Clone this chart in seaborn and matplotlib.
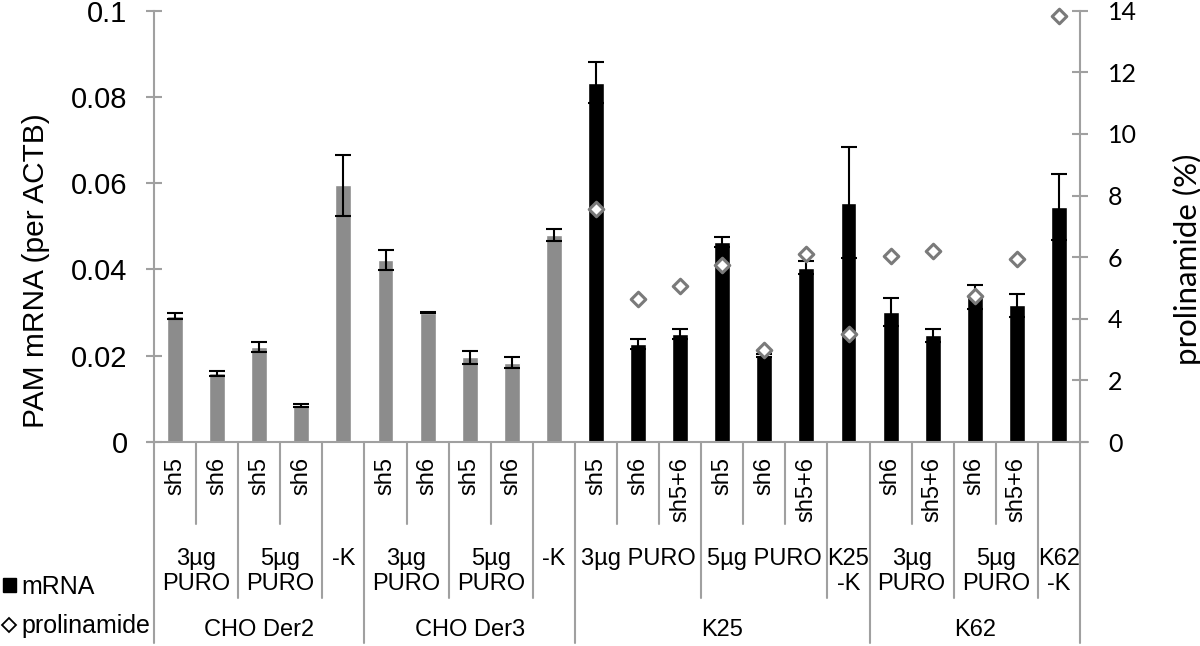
import numpy as np
import pandas as pd
import seaborn as sns
import matplotlib.pyplot as plt
from matplotlib.transforms import blended_transform_factory
from matplotlib.patches import Patch
from matplotlib.lines import Line2D

# Data
construct = ["sh5", "sh6", "sh5", "sh6", "",
             "sh5", "sh6", "sh5", "sh6", "",
             "sh5", "sh6", "sh5+6", "sh5", "sh6", "sh5+6", "",
             "sh6", "sh5+6", "sh6", "sh5+6", ""]
condition = ["3µg\nPURO", "3µg\nPURO", "5µg\nPURO", "5µg\nPURO", "-K",
             "3µg\nPURO", "3µg\nPURO", "5µg\nPURO", "5µg\nPURO", "-K",
             "3µg PURO", "3µg PURO", "3µg PURO", "5µg PURO", "5µg PURO", "5µg PURO", "K25\n-K",
             "3µg\nPURO", "3µg\nPURO", "5µg\nPURO", "5µg\nPURO", "K62\n-K"]
cell_line = ["CHO Der2"] * 5 + ["CHO Der3"] * 5 + ["K25"] * 7 + ["K62"] * 5
mrna = [0.0293, 0.0159, 0.0220, 0.0084, 0.0595,
        0.0422, 0.0300, 0.0197, 0.0184, 0.0479,
        0.0833, 0.0227, 0.0251, 0.0464, 0.0201, 0.0404, 0.0555,
        0.0302, 0.0247, 0.0336, 0.0317, 0.0545]
mrna_err = [0.0007, 0.0006, 0.0012, 0.0004, 0.0070,
            0.0023, 0.0002, 0.0015, 0.0012, 0.0014,
            0.0047, 0.0011, 0.0012, 0.0012, 0.0003, 0.0015, 0.0128,
            0.0032, 0.0016, 0.0027, 0.0027, 0.0077]
prolinamide = [np.nan] * 10 + [7.55, 4.63, 5.07, 5.75, 3.0, 6.11, 3.49,
                               6.05, 6.19, 4.74, 5.93, 13.83]

df = pd.DataFrame({"pos": np.arange(len(mrna)), "mrna": mrna, "err": mrna_err,
                   "prolinamide": prolinamide, "line": cell_line,
                   "kind": ["CHO" if c.startswith("CHO") else "K" for c in cell_line]})

sns.set_style("white")
plt.rcParams["font.family"] = ["Liberation Sans", "DejaVu Sans"]
plt.rcParams["text.color"] = "black"

W, H = 1200, 646
fy = lambda px: 1 - px / H
fx = lambda px: px / W
X0, X1, Y0, Y1 = 154, 1080, 442, 10.7

fig = plt.figure(figsize=(W / 100, H / 100), dpi=100)
ax = fig.add_axes([fx(X0), fy(Y0), (X1 - X0) / W, (Y0 - Y1) / H])

sns.barplot(data=df, x="pos", y="mrna", hue="kind", palette={"CHO": "#8c8c8c", "K": "black"},
            dodge=False, width=0.38, legend=False, ax=ax, errorbar=None, saturation=1)
ax.errorbar(df["pos"], df["mrna"], yerr=df["err"], fmt="none", ecolor="black",
            elinewidth=1.5, capsize=6, capthick=1.5, zorder=3)

ax2 = ax.twinx()
sns.scatterplot(data=df, x="pos", y="prolinamide", marker="D", s=55, color="white",
                edgecolor="#7a7a7a", linewidth=2.2, ax=ax2, zorder=4, clip_on=False)

n = len(mrna)
for a in (ax, ax2):
    a.set_xlim(-0.5, n - 0.5)
    a.set_xlabel("")
    a.set_ylabel("")
    a.set_xticks([])
    for s in a.spines.values():
        s.set_visible(False)

gray = "#a0a0a0"
ax.set_ylim(0, 0.1)
ax.set_yticks([0, 0.02, 0.04, 0.06, 0.08, 0.1])
ax.set_yticklabels(["0", "0.02", "0.04", "0.06", "0.08", "0.1"], fontsize=21)
ax.spines["left"].set_visible(True)
ax.spines["left"].set_color(gray)
ax.spines["left"].set_linewidth(1.5)
ax.tick_params(axis="y", direction="inout", length=12, width=1.5, color=gray,
               labelcolor="black", pad=13)

ax2.set_ylim(0, 14)
ax2.set_yticks(range(0, 15, 2))
ax2.set_yticklabels([str(v) for v in range(0, 15, 2)], fontsize=18, family="Lato")
ax2.spines["right"].set_visible(True)
ax2.spines["right"].set_color(gray)
ax2.spines["right"].set_linewidth(1.5)
ax2.tick_params(axis="y", direction="inout", length=12, width=1.5, color=gray,
                labelcolor="black", pad=14)

fig.text(fx(36), fy(271), "PAM mRNA (per ACTB)", rotation=90, ha="center", va="center",
         fontsize=21.5)
fig.text(fx(1187), fy(259), "prolinamide (%)", rotation=90, ha="center", va="center",
         fontsize=22.5, family="Lato")

# multi-level category axis
tr = blended_transform_factory(ax.transData, fig.transFigure)
step = (X1 - X0) / n
ax.plot([-0.5 - 7 / step, n - 0.5 + 8 / step], [fy(Y0), fy(Y0)], color=gray, lw=1.5,
        transform=tr, clip_on=False, zorder=1)

for i in range(n):
    if construct[i]:
        ax.text(i, fy(457), construct[i], rotation=90, ha="center", va="top",
                fontsize=17, transform=tr)

def runs(keys):
    out, start = [], 0
    for i in range(1, n + 1):
        if i == n or keys[i] != keys[start]:
            out.append((start, i - 1, keys[start]))
            start = i
    return out

for a, b, k in runs(list(zip(cell_line, condition))):
    ax.text((a + b) / 2, fy(548), k[1], ha="center", va="top", fontsize=17, transform=tr)
for a, b, k in runs(cell_line):
    ax.text((a + b) / 2, fy(630), k, ha="center", va="center", fontsize=17, transform=tr)

for i in range(n + 1):
    if i == 0 or i == n or cell_line[i] != cell_line[i - 1]:
        bottom = 643
    elif condition[i] != condition[i - 1]:
        bottom = 598
    else:
        bottom = 524
    ax.plot([i - 0.5, i - 0.5], [fy(Y0), fy(bottom)], color=gray, lw=1.5,
            transform=tr, clip_on=False)

handles = [Patch(facecolor="black", edgecolor="black"),
           Line2D([], [], marker="D", color="none", markerfacecolor="white",
                  markeredgecolor="black", markersize=7.5, markeredgewidth=1.3)]
fig.legend(handles, ["mRNA", "prolinamide"], loc="center left",
           bbox_to_anchor=(fx(3), fy(606)), frameon=False, fontsize=18,
           handlelength=0.5, handleheight=0.5, handletextpad=0.25, labelspacing=0.6,
           borderpad=0, borderaxespad=0)

fig.savefig("out.png", dpi=100)
